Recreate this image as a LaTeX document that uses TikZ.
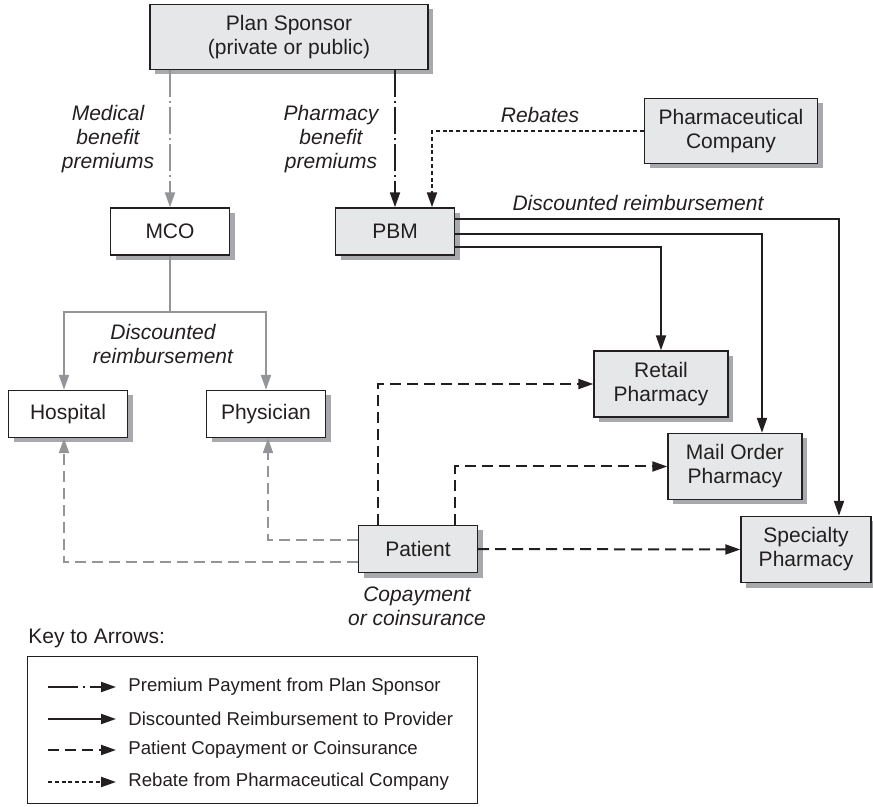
\documentclass[tikz,border=0pt]{standalone}
\usepackage{fontspec}
\setmainfont{Liberation Sans}
\usetikzlibrary{arrows.meta,shadows}

\definecolor{boxgray}{HTML}{E6E7E8}
\definecolor{shadowgray}{HTML}{A7A9AC}
\definecolor{linegray}{HTML}{939598}
\definecolor{ink}{HTML}{231F20}

\begin{document}
\begin{tikzpicture}[x=0.5pt, y=-0.5pt, color=ink, >={Triangle[length=7.5pt,width=5pt]},
  every node/.style={font=\fontsize{10.5}{12}\selectfont},
  entity/.style={draw=ink, line width=0.7pt, fill=boxgray, align=center, inner sep=0pt,
    drop shadow={shadow xshift=2.5pt, shadow yshift=-2.5pt, fill=shadowgray, opacity=1}},
  plain/.style={entity, fill=white},
  smallbox/.style={minimum width=59.5pt, minimum height=23.5pt},
  bigbox/.style={minimum width=67pt, minimum height=33pt},
  lbl/.style={font=\fontsize{10.5}{12}\selectfont\itshape, align=center},
  keytext/.style={font=\fontsize{9.3}{11}\selectfont, anchor=west, inner xsep=6pt, inner ysep=0pt},
  premium/.style={->, line width=1pt, dash pattern=on 13.5pt off 2pt on 1pt off 2pt},
  reimb/.style={->, line width=1pt},
  copay/.style={->, line width=1pt, dash pattern=on 5.5pt off 3pt},
  rebate/.style={->, line width=1pt, dash pattern=on 2pt off 1.4pt}]
\useasboundingbox (0,0) rectangle (873,807);

% boxes
\node[entity, minimum width=139pt, minimum height=32.5pt] (sponsor) at (289,37) {Plan Sponsor\\(private or public)};
\node[plain, smallbox] (mco) at (170,231.5) {MCO};
\node[entity, smallbox] (pbm) at (395,231.5) {PBM};
\node[entity, minimum width=86.5pt, minimum height=32.5pt] (pharmco) at (731,131) {Pharmaceutical\\Company};
\node[plain, smallbox] (hospital) at (68,414) {Hospital};
\node[plain, smallbox] (physician) at (266,414) {Physician};
\node[entity, smallbox] (patient) at (418,549) {Patient};
\node[entity, bigbox] (retail) at (661,384) {Retail\\Pharmacy};
\node[entity, bigbox] (mail) at (735,466.5) {Mail Order\\Pharmacy};
\node[entity, minimum width=65pt, minimum height=33pt] (specialty) at (806,549.5) {Specialty\\Pharmacy};

% premiums and rebates
\draw[premium, linegray] (sponsor.south -| mco.north) -- (mco.north);
\draw[premium] (sponsor.south -| pbm.north) -- (pbm.north);
\draw[rebate] (pharmco.west) -| ([xshift=18.5pt]pbm.north);
\node[lbl] (medlbl) at (108,139) {Medical\\benefit\\premiums};
\node[lbl] (pharmlbl) at (331,139) {Pharmacy\\benefit\\premiums};
\node[lbl] (rebatelbl) at (540,115) {Rebates};

% reimbursement
\draw[reimb] ([yshift=6.25pt]pbm.east) -| ([xshift=16.5pt]specialty.north);
\draw[reimb] ([yshift=-1.25pt]pbm.east) -| ([xshift=13.5pt]mail.north);
\draw[reimb] ([yshift=-7.75pt]pbm.east) -| (retail.north);
\node[lbl] (pbmlbl) at (638,203) {Discounted reimbursement};
\coordinate (fork) at (170,312);
\draw[linegray, line width=1pt] (mco.south) -- (fork);
\draw[reimb, linegray] (fork) -| ([xshift=-2pt]hospital.north);
\draw[reimb, linegray] (fork) -| (physician.north);
\node[lbl] (mcolbl) at (163,343.5) {Discounted\\reimbursement};

% copayments
\draw[copay] ([xshift=-20pt]patient.north) |- (retail.west);
\draw[copay] ([xshift=18.5pt]patient.north) |- (mail.west);
\draw[copay] (patient.east) -- (specialty.west);
\draw[copay, linegray] ([yshift=4.5pt]patient.west) -| ([xshift=1pt]physician.south);
\draw[copay, linegray] ([yshift=-6.5pt]patient.west) -| ([xshift=-2pt]hospital.south);
\node[lbl] (copaylbl) at (417,606.5) {Copayment\\or coinsurance};

% key
\node[anchor=west, inner sep=0pt] (keytitle) at (28,638) {Key to Arrows:};
\node[draw, line width=0.7pt, anchor=north west, minimum width=225pt, minimum height=73.5pt, inner sep=0pt] (keybox) at (27,656) {};
\node[keytext] (k1) at (116,687) {Premium Payment from Plan Sponsor};
\node[keytext] (k2) at (116,719) {Discounted Reimbursement to Provider};
\node[keytext] (k3) at (116,750) {Patient Copayment or Coinsurance};
\node[keytext] (k4) at (116,782) {Rebate from Pharmaceutical Company};
\coordinate (k1s) at (48,687);
\coordinate (k2s) at (48,719);
\coordinate (k3s) at (48,750);
\coordinate (k4s) at (48,782);
\draw[premium, dash pattern=on 15pt off 2.5pt on 1pt off 2.5pt] (k1s) -- (k1.west);
\draw[reimb] (k2s) -- (k2.west);
\draw[copay] (k3s) -- (k3.west);
\draw[rebate] (k4s) -- (k4.west);
\end{tikzpicture}
\end{document}
